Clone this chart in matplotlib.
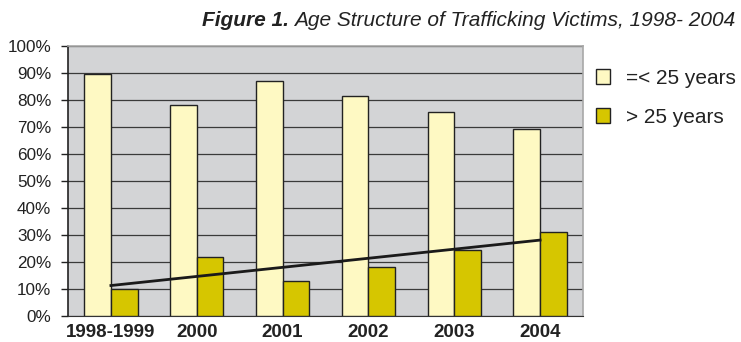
import numpy as np
import matplotlib.pyplot as plt
from matplotlib.ticker import PercentFormatter

plt.rcParams['font.family'] = ['Liberation Sans', 'DejaVu Sans']

years = ['1998-1999', '2000', '2001', '2002', '2003', '2004']
young = [89.5, 78.0, 87.2, 81.6, 75.7, 69.1]
older = [10.0, 21.9, 12.8, 18.1, 24.4, 31.0]

fig = plt.figure(figsize=(7.41, 3.42), dpi=100)
ax = fig.add_axes([68 / 741, 26 / 342, 515 / 741, 270 / 342])
ax.set_facecolor('#d3d4d6')

x = np.arange(len(years))
w = 0.31
b1 = ax.bar(x - w / 2, young, w, color='#fef9c3', edgecolor='#222222',
            linewidth=1.0, label='=< 25 years', zorder=3)
b2 = ax.bar(x + w / 2, older, w, color='#d6c600', edgecolor='#222222',
            linewidth=1.0, label='> 25 years', zorder=3)

# linear trend of the older group
k, c = np.polyfit(x, older, 1)
ax.plot(x, k * x + c, color='#1a1a1a', linewidth=2.0, zorder=4)

ax.set_xlim(-0.5, len(years) - 0.5)
ax.set_ylim(0, 100)
ax.set_yticks(np.arange(0, 101, 10))
ax.yaxis.set_major_formatter(PercentFormatter(decimals=0))
ax.set_xticks(x)
ax.set_xticklabels(years, fontsize=13.5, fontweight='bold', color='#222222')
ax.tick_params(axis='y', labelsize=12.3, length=5, width=1, color='#222222',
               labelcolor='#222222', pad=7)
ax.tick_params(axis='x', length=0, pad=5.5)
ax.yaxis.grid(True, color='#3a3a3a', linewidth=0.9, zorder=0)
ax.set_axisbelow(True)

for s in ['top', 'right']:
    ax.spines[s].set_color('#a8a8a8')
    ax.spines[s].set_linewidth(1.2)
ax.spines['left'].set_color('#222222')
ax.spines['left'].set_linewidth(1.2)
ax.spines['bottom'].set_color('#333333')

fig.legend(handles=[b1, b2], loc='upper left', bbox_to_anchor=(577 / 741, 1 - 50 / 342),
           frameon=False, fontsize=15, handlelength=0.7, handleheight=0.7,
           labelspacing=0.95, handletextpad=0.75, labelcolor='#222222')

t = fig.text(735 / 741, 1 - 21 / 342,
             'Age Structure of Trafficking Victims, 1998- 2004',
             ha='right', va='center', fontsize=15, style='italic', color='#222222')
fig.canvas.draw()
bb = t.get_window_extent()
fig.text((bb.x0 - 5) / 741, 1 - 21 / 342, 'Figure 1.', ha='right', va='center',
         fontsize=15, style='italic', fontweight='bold', color='#222222')

fig.savefig('out.png', dpi=100)
